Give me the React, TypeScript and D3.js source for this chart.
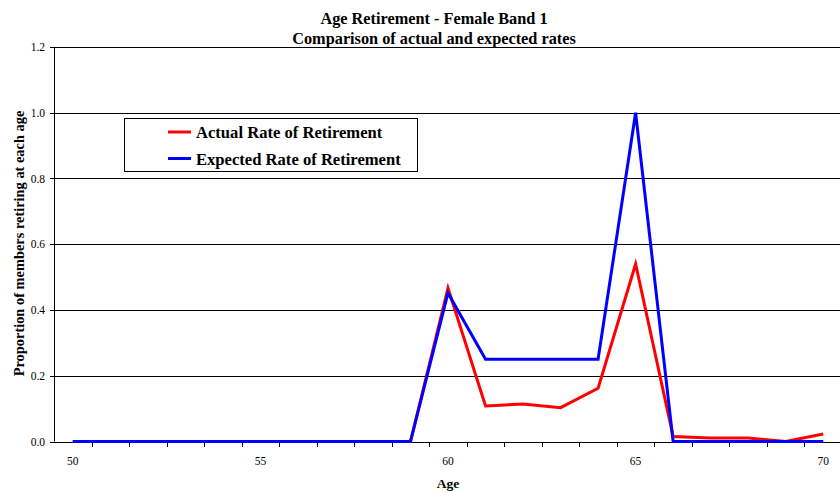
import React, { useEffect, useRef } from "react";
import * as d3 from "d3";

const ages = [50, 51, 52, 53, 54, 55, 56, 57, 58, 59, 60, 61, 62, 63, 64, 65, 66, 67, 68, 69, 70];
const actualRate = [0, 0, 0, 0, 0, 0, 0, 0, 0, 0, 0.467, 0.108, 0.114, 0.103, 0.162, 0.54, 0.015, 0.011, 0.011, 0, 0.023];
const expectedRate = [0, 0, 0, 0, 0, 0, 0, 0, 0, 0, 0.452, 0.25, 0.25, 0.25, 0.25, 1.0, 0, 0, 0, 0, 0];
const yTicks = [0, 0.2, 0.4, 0.6, 0.8, 1.0, 1.2];
const xLabelAges = [50, 55, 60, 65, 70];
const seriesNames = ["Actual Rate of Retirement", "Expected Rate of Retirement"];
const seriesColors = ["#ff0000", "#0000ff"];

const W = 840;
const H = 493;
const FONT = "'Liberation Serif', 'Times New Roman', serif";

export default function App() {
  const ref = useRef<SVGSVGElement>(null);

  useEffect(() => {
    const svg = d3.select(ref.current);
    svg.selectAll("*").remove();

    const left = 54;
    const right = 842;
    const top = 47;
    const bottom = 441.5;

    const x = d3.scaleBand<number>().domain(ages).range([left, right]).padding(0);
    const cx = (a: number) => (x(a) as number) + x.bandwidth() / 2;
    const y = d3.scaleLinear().domain([0, 1.2]).range([bottom, top]);

    // horizontal gridlines
    svg
      .append("g")
      .selectAll("line")
      .data(yTicks.filter((t) => t > 0))
      .join("line")
      .attr("x1", left)
      .attr("x2", W)
      .attr("y1", (d) => Math.round(y(d)) + 0.5)
      .attr("y2", (d) => Math.round(y(d)) + 0.5)
      .attr("stroke", "#000")
      .attr("stroke-width", 1);

    // y axis
    const yAxis = svg.append("g");
    yAxis
      .append("line")
      .attr("x1", left + 0.5)
      .attr("x2", left + 0.5)
      .attr("y1", y(1.2))
      .attr("y2", bottom)
      .attr("stroke", "#000");
    yAxis
      .selectAll("line.tick")
      .data(yTicks)
      .join("line")
      .attr("class", "tick")
      .attr("x1", left - 4)
      .attr("x2", left)
      .attr("y1", (d) => Math.round(y(d)) + 0.5)
      .attr("y2", (d) => Math.round(y(d)) + 0.5)
      .attr("stroke", "#000");
    yAxis
      .selectAll("text")
      .data(yTicks)
      .join("text")
      .attr("x", left - 9)
      .attr("y", (d) => y(d) + 4)
      .attr("text-anchor", "end")
      .attr("font-family", FONT)
      .attr("font-size", 11.5)
      .text((d) => d.toFixed(1));

    // x axis
    const xAxis = svg.append("g");
    xAxis
      .append("line")
      .attr("x1", left)
      .attr("x2", W)
      .attr("y1", Math.round(bottom) + 0.5)
      .attr("y2", Math.round(bottom) + 0.5)
      .attr("stroke", "#000");
    const boundaries = ages.map((a) => x(a) as number).filter((v) => v > left);
    xAxis
      .selectAll("line.tick")
      .data(boundaries)
      .join("line")
      .attr("class", "tick")
      .attr("x1", (d) => Math.round(d) + 0.5)
      .attr("x2", (d) => Math.round(d) + 0.5)
      .attr("y1", Math.round(bottom))
      .attr("y2", Math.round(bottom) + 5)
      .attr("stroke", "#000");
    xAxis
      .selectAll("text")
      .data(xLabelAges)
      .join("text")
      .attr("x", (d) => cx(d))
      .attr("y", 464.5)
      .attr("text-anchor", "middle")
      .attr("font-family", FONT)
      .attr("font-size", 11.5)
      .text((d) => String(d));

    // series lines
    const series = [actualRate, expectedRate];
    const line = d3
      .line<number>()
      .x((_, i) => cx(ages[i]))
      .y((d) => y(d));
    series.forEach((vals, i) => {
      svg
        .append("path")
        .datum(vals)
        .attr("d", line)
        .attr("fill", "none")
        .attr("stroke", seriesColors[i])
        .attr("stroke-width", 3)
        .attr("stroke-linejoin", "miter");
    });

    // legend
    const lg = svg.append("g");
    lg.append("rect")
      .attr("x", 124.5)
      .attr("y", 118.5)
      .attr("width", 293)
      .attr("height", 53)
      .attr("fill", "#fff")
      .attr("stroke", "#000")
      .attr("stroke-width", 1);
    seriesNames.forEach((name, i) => {
      const ly = 132 + i * 26.5;
      lg.append("line")
        .attr("x1", 168)
        .attr("x2", 191)
        .attr("y1", ly)
        .attr("y2", ly)
        .attr("stroke", seriesColors[i])
        .attr("stroke-width", 3);
      lg.append("text")
        .attr("x", 196)
        .attr("y", ly + 6)
        .attr("font-family", FONT)
        .attr("font-weight", "bold")
        .attr("font-size", 16.6)
        .text(name);
    });

    // titles
    svg
      .append("text")
      .attr("x", 434)
      .attr("y", 24)
      .attr("text-anchor", "middle")
      .attr("font-family", FONT)
      .attr("font-weight", "bold")
      .attr("font-size", 16.3)
      .text("Age Retirement - Female Band 1");
    svg
      .append("text")
      .attr("x", 434)
      .attr("y", 44)
      .attr("text-anchor", "middle")
      .attr("font-family", FONT)
      .attr("font-weight", "bold")
      .attr("font-size", 16.3)
      .text("Comparison of actual and expected rates");

    svg
      .append("text")
      .attr("x", 448)
      .attr("y", 488)
      .attr("text-anchor", "middle")
      .attr("font-family", FONT)
      .attr("font-weight", "bold")
      .attr("font-size", 13.5)
      .text("Age");

    svg
      .append("text")
      .attr("transform", `translate(24, 243.5) rotate(-90)`)
      .attr("text-anchor", "middle")
      .attr("font-family", FONT)
      .attr("font-weight", "bold")
      .attr("font-size", 14.4)
      .text("Proportion of members retiring at each age");
  }, []);

  return (
    <div style={{ position: "absolute", left: 0, top: 0 }}>
      <svg ref={ref} width={W} height={H} style={{ display: "block", background: "#fff" }} />
    </div>
  );
}
